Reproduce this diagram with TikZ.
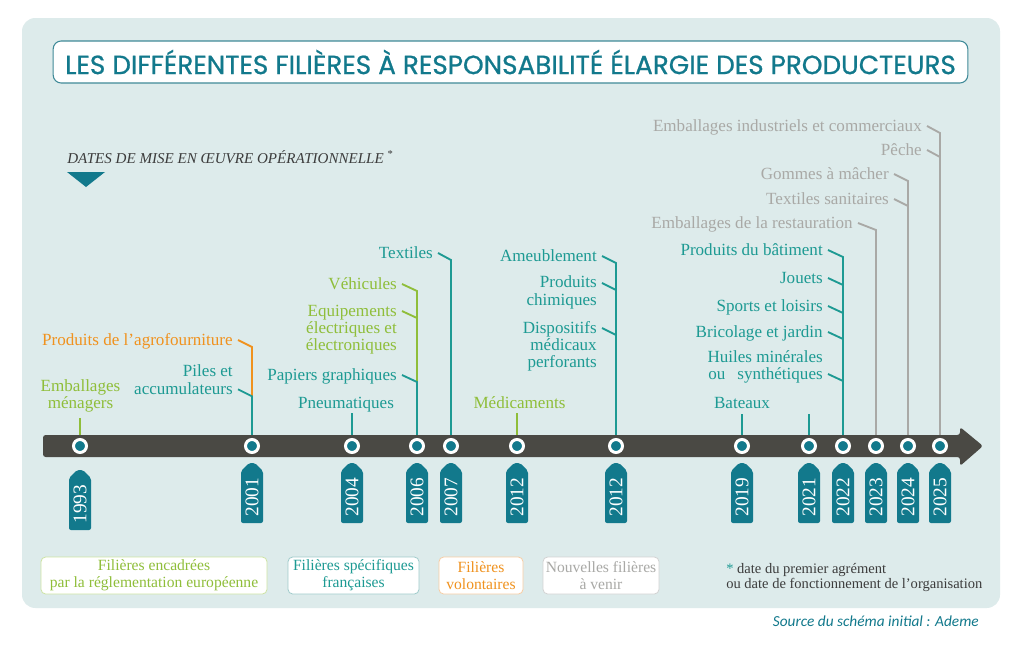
\documentclass[tikz,border=0pt]{standalone}
\usepackage{fontspec}
\setmainfont{Liberation Serif}
\newfontfamily\titlefont{Poppins}[FakeBold=0.8]
\newfontfamily\srcfont{Carlito}
\usetikzlibrary{calc}
\definecolor{panelc}{HTML}{DDEBEB}
\definecolor{tealdark}{HTML}{12798C}
\definecolor{tealc}{HTML}{1D9A93}
\definecolor{greenc}{HTML}{8FBE3A}
\definecolor{orangec}{HTML}{F0921E}
\definecolor{greyc}{HTML}{A9A9A6}
\definecolor{barc}{HTML}{4A4944}
\definecolor{titleborder}{HTML}{3F8A98}
\definecolor{darktext}{HTML}{3C3C3C}
\definecolor{greenlight}{HTML}{CDE3A4}
\definecolor{teallight}{HTML}{9FCBCB}
\definecolor{orangelight}{HTML}{F7CDA4}
\definecolor{greylight}{HTML}{D2D2D2}
\pgfdeclarelayer{panel}
\pgfdeclarelayer{conn}
\pgfsetlayers{panel,conn,main}
\tikzset{
  lab/.style={inner sep=0pt, font=\fontsize{12.8}{13}\selectfont, align=right, anchor=base east},
  clab/.style={inner sep=0pt, font=\fontsize{12.8}{12.2}\selectfont, align=center, anchor=base},
  cn/.style={line width=1.4pt},
  dot/.style={circle, fill=tealdark, draw=white, line width=2.25pt, minimum size=9.75pt, inner sep=0pt},
  yeartxt/.style={text=white, rotate=90, font=\fontsize{14.5}{14.5}\selectfont, inner sep=0pt},
  legbox/.style={draw, fill=white, rounded corners=3.5pt, line width=0.6pt, align=center,
     font=\fontsize{11.7}{12.8}\selectfont, inner sep=0pt, minimum height=27.75pt},
}
\newcommand\diagc[4]{\draw[cn,#1] ($(#2.base east)+(5,#4)$) -- ($(#2.base east -| #3)+(0,#4+7)$);}
\begin{document}
\begin{tikzpicture}[x=0.75pt,y=-0.75pt]
\useasboundingbox (0,0) rectangle (1024,671);
\begin{pgfonlayer}{panel}
\fill[white] (0,0) rectangle (1024,671);
\fill[panelc, rounded corners=10pt] (22,18) rectangle (1000,608);
\end{pgfonlayer}

% title
\node[draw=titleborder, fill=white, rounded corners=6pt, line width=0.8pt,
      minimum width=686pt, minimum height=31.5pt, inner sep=0pt,
      text=tealdark, font=\titlefont\fontsize{19.7}{19.7}\selectfont] (title) at (510.5,62)
  {LES DIFFÉRENTES FILIÈRES À RESPONSABILITÉ ÉLARGIE DES PRODUCTEURS};

% dates header
\node[anchor=base west, inner sep=0pt, text=darktext, font=\fontsize{11.3}{11.3}\selectfont\itshape] (hdr) at (67,163)
  {DATES DE MISE EN ŒUVRE OPÉRATIONNELLE \textsuperscript{\upshape *}};
\fill[tealdark] (67,172) -- (105,172) -- (86,187) -- cycle;

% timeline bar
\fill[barc, rounded corners=2pt] (43,435) -- (960,435) -- (960,427) -- (983,446) -- (960,466) -- (960,457) -- (43,457) -- cycle;

% dots and year tags
\foreach \xx/\yt/\yr/\nm in {80/470/1993/c1993, 252/463/2001/c2001, 352/463/2004/c2004,
   417/463/2006/c2006, 451/463/2007/c2007, 517/463/2012/c2012a, 616/463/2012/c2012b,
   742/463/2019/c2019, 809/463/2021/c2021, 843/463/2022/c2022, 876/463/2023/c2023,
   908/463/2024/c2024, 940/463/2025/c2025} {
  \node[dot] (\nm) at (\xx,446) {};
  \fill[tealdark, rounded corners=1.5pt] (\xx-11,\yt+60) -- (\xx-11,\yt+8) -- (\xx-3,\yt) -- (\xx+3,\yt) -- (\xx+11,\yt+8) -- (\xx+11,\yt+60) -- cycle;
  \node[yeartxt] (y\nm) at (\xx,\yt+34) {\yr};
}

% labels (base anchor = last line's baseline)
\node[clab, text=greenc] (embmen) at (80.5,408) {Emballages\\ménagers};
\node[lab, text=orangec] (agro) at (233,345) {Produits de l'agrofourniture};
\node[lab, text=tealc] (piles) at (233,394.3) {Piles et\\accumulateurs};
\node[clab, text=tealc] (pneu) at (346,408) {Pneumatiques};
\node[lab, text=greenc] (vehic) at (397,289) {Véhicules};
\node[lab, text=greenc] (equip) at (397,350.7) {Equipements\\électriques et\\électroniques};
\node[lab, text=tealc] (papiers) at (397,380) {Papiers graphiques};
\node[lab, text=tealc] (textiles) at (433,258) {Textiles};
\node[clab, text=greenc] (medic) at (519.5,408) {Médicaments};
\node[lab, text=tealc] (ameub) at (597,261) {Ameublement};
\node[lab, text=tealc] (chim) at (597,305.3) {Produits\\chimiques};
\node[lab, text=tealc] (dispo) at (597,367.7) {Dispositifs\\médicaux\\perforants};
\node[clab, text=tealc] (bateaux) at (742,408) {Bateaux};
\node[lab, text=greyc] (embind) at (922,131) {Emballages industriels et commerciaux};
\node[lab, text=greyc] (peche) at (922,155) {Pêche};
\node[lab, text=greyc] (gommes) at (889,179) {Gommes à mâcher};
\node[lab, text=greyc] (texsan) at (889,204) {Textiles sanitaires};
\node[lab, text=greyc] (embrest) at (853,228) {Emballages de la restauration};
\node[lab, text=tealc] (batim) at (823,255) {Produits du bâtiment};
\node[lab, text=tealc] (jouets) at (823,283) {Jouets};
\node[lab, text=tealc] (sports) at (823,311) {Sports et loisirs};
\node[lab, text=tealc] (brico) at (823,337) {Bricolage et jardin};
\node[lab, text=tealc, font=\fontsize{12.8}{12.3}\selectfont] (huiles) at (823,379) {Huiles minérales\\ou\hspace{9pt}synthétiques};
\coordinate (t2021) at (809,414);

% connectors
\begin{pgfonlayer}{conn}
\draw[cn,greenc] ($(embmen.south -| c1993)+(0,6)$) -- (c1993);
\draw[cn,orangec] ($(agro.base east)+(5,-5)$) -- ($(agro.base east -| c2001)+(0,2)$) -- ($(piles.base east -| c2001)+(0,2)$);
\draw[cn,tealc] ($(piles.base east)+(5,-5)$) -- ($(piles.base east -| c2001)+(0,2)$) -- (c2001);
\draw[cn,tealc] ($(pneu.base -| c2004)+(0,5)$) -- (c2004);
\draw[cn,greenc] ($(vehic.base east)+(5,-5)$) -- ($(vehic.base east -| c2006)+(0,2)$) -- ($(papiers.base east -| c2006)+(0,2)$);
\diagc{greenc}{equip}{c2006}{-39.67}
\draw[cn,tealc] ($(papiers.base east)+(5,-5)$) -- ($(papiers.base east -| c2006)+(0,2)$) -- (c2006);
\draw[cn,tealc] ($(textiles.base east)+(5,-5)$) -- ($(textiles.base east -| c2007)+(0,2)$) -- (c2007);
\draw[cn,greenc] ($(medic.base -| c2012a)+(0,5)$) -- (c2012a);
\draw[cn,tealc] ($(ameub.base east)+(5,-5)$) -- ($(ameub.base east -| c2012b)+(0,2)$) -- (c2012b);
\diagc{tealc}{chim}{c2012b}{-22.33}
\diagc{tealc}{dispo}{c2012b}{-39.67}
\draw[cn,tealc] ($(bateaux.base -| c2019)+(0,6)$) -- (c2019);
\draw[cn,tealc] (t2021) -- (c2021);
\draw[cn,tealc] ($(batim.base east)+(5,-5)$) -- ($(batim.base east -| c2022)+(0,2)$) -- (c2022);
\diagc{tealc}{jouets}{c2022}{-5}
\diagc{tealc}{sports}{c2022}{-5}
\diagc{tealc}{brico}{c2022}{-5}
\diagc{tealc}{huiles}{c2022}{-5}
\draw[cn,greyc] ($(embrest.base east)+(5,-5)$) -- ($(embrest.base east -| c2023)+(0,2)$) -- (c2023);
\draw[cn,greyc] ($(gommes.base east)+(5,-5)$) -- ($(gommes.base east -| c2024)+(0,2)$) -- (c2024);
\diagc{greyc}{texsan}{c2024}{-5}
\draw[cn,greyc] ($(embind.base east)+(5,-5)$) -- ($(embind.base east -| c2025)+(0,2)$) -- (c2025);
\diagc{greyc}{peche}{c2025}{-5}
\end{pgfonlayer}

% legend
\node[legbox, draw=greenlight, text=greenc, minimum width=169.5pt] (leg1) at (154,575.5) {Filières encadrées\\par la réglementation européenne};
\node[legbox, draw=teallight, text=tealc, minimum width=98.25pt] (leg2) at (353.5,575.5) {Filières spécifiques\\françaises};
\node[legbox, draw=orangelight, text=orangec, minimum width=63pt] (leg3) at (481,575.5) {Filières\\volontaires};
\node[legbox, draw=greylight, text=greyc, minimum width=87pt] (leg4) at (601,575.5) {Nouvelles filières\\à venir};
\node[anchor=base west, inner sep=0pt, align=left, text=darktext, font=\fontsize{10.9}{10.6}\selectfont] (note) at (726,588)
  {\textcolor{tealc}{*} date du premier agrément\\ou date de fonctionnement de l'organisation};
\node[anchor=base east, inner sep=0pt, text=tealdark, font=\srcfont\itshape\fontsize{11.5}{11.5}\selectfont] (src) at (979,626)
  {Source du schéma initial : Ademe};
\end{tikzpicture}
\end{document}
